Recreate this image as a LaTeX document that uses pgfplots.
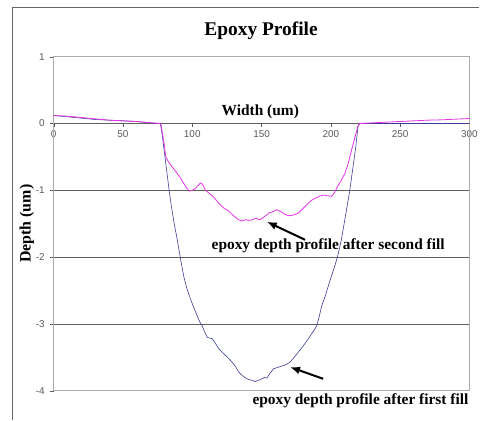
\documentclass[border=0pt]{standalone}
\usepackage{fontspec}
\setmainfont{Liberation Serif}
\newfontfamily\arial{Liberation Sans}
\usepackage{pgfplots}
\pgfplotsset{compat=1.18}
\usetikzlibrary{arrows.meta}
\definecolor{firstc}{RGB}{60,60,150}
\definecolor{secondc}{RGB}{228,50,228}
\definecolor{gridc}{RGB}{95,95,95}
\definecolor{boxc}{RGB}{170,170,170}
\definecolor{tickc}{RGB}{90,90,90}
\begin{document}
\begin{tikzpicture}[x=1pt,y=1pt]
\path (0,0) rectangle (481,421);
\draw[gray!80!black, line width=0.8pt] (12,-1) -- (12,414) -- (482,414);
\begin{axis}[at={(54pt,28pt)}, anchor=south west, scale only axis,
  width=418pt, height=336pt,
  xmin=0, xmax=300, ymin=-4, ymax=1,
  axis x line=middle, axis y line=left, axis line style={-},
  x axis line style={draw=gridc, line width=0.8pt},
  y axis line style={draw=boxc, line width=0.8pt},
  hide obscured x ticks=false,
  clip=false,
  xtick={0,50,...,300}, ytick={-4,-3,-2,-1,0,1},
  yticklabels={-4,-3,-2,-1,0,1},
  xticklabels={0,50,100,150,200,250,300},
  xticklabel style={font=\arial\fontsize{10}{12}\selectfont, text=tickc, yshift=0pt},
  yticklabel style={font=\arial\fontsize{10}{12}\selectfont, text=tickc, xshift=-2pt},
  major tick length=3.5pt,
  xtick style={draw=tickc},
  ytick style={draw=tickc},
  tick align=outside,
  xlabel={}, ylabel={},
]
\draw[boxc, line width=0.8pt] (rel axis cs:0,0) rectangle (rel axis cs:1,1);
\draw[gridc, line width=0.8pt] (axis cs:0,-1) -- (axis cs:300,-1);
\draw[gridc, line width=0.8pt] (axis cs:0,-2) -- (axis cs:300,-2);
\draw[gridc, line width=0.8pt] (axis cs:0,-3) -- (axis cs:300,-3);
\addplot[firstc, line width=0.6pt] coordinates {
(0,0.12) (10,0.10) (20,0.08) (30,0.06) (40,0.05) (50,0.04) (60,0.03) (70,0.01) (77,0.0)
(78.5,-0.2) (80,-0.45) (81.5,-0.7) (83.3,-1.0) (85,-1.25) (87,-1.5) (89,-1.72) (90.4,-1.89)
(92,-2.08) (94,-2.30) (96,-2.46) (98.8,-2.63) (101,-2.75) (103.6,-2.88) (105.5,-2.97) (107.2,-3.03)
(109,-3.12) (110.8,-3.20) (112.5,-3.21) (114.4,-3.22) (117,-3.30) (119.2,-3.37) (121.5,-3.42)
(124,-3.47) (126.5,-3.52) (128.7,-3.57) (131,-3.63) (133.5,-3.72) (136.5,-3.78) (139.5,-3.82)
(142.5,-3.84) (145.5,-3.86) (148,-3.84) (150.3,-3.82) (152,-3.80) (153.9,-3.81) (156,-3.74)
(158.7,-3.67) (161.5,-3.65) (164.6,-3.63) (167.5,-3.61) (170.6,-3.57) (173.5,-3.50) (176.6,-3.42)
(180,-3.33) (183.8,-3.22) (187,-3.12) (189.8,-3.03) (191.5,-2.90) (193.4,-2.73) (196,-2.58)
(198.2,-2.43) (200.5,-2.28) (202.9,-2.13) (205,-1.98) (207.5,-1.75) (210,-1.45) (213.7,-1.0)
(216,-0.65) (218,-0.35) (219.7,-0.03) (221,0.0) (230,0.0) (250,0.0) (270,0.0) (300,0.0)
};
\addplot[secondc, line width=0.8pt] coordinates {
(0,0.12) (10,0.11) (20,0.09) (30,0.07) (40,0.05) (50,0.04) (60,0.03) (70,0.01) (77.3,0.0)
(78.5,-0.15) (79.7,-0.30) (80.9,-0.50) (83,-0.58) (85.6,-0.65) (88.5,-0.73) (91.7,-0.82)
(94.5,-0.92) (97.6,-1.01) (100,-1.00) (102.4,-0.97) (104.5,-0.92) (106,-0.89) (107.5,-0.91)
(109.6,-1.0) (112,-1.04) (115.5,-1.10) (119.2,-1.20) (122.5,-1.26) (126.3,-1.31) (128.7,-1.36)
(131.5,-1.41) (133.5,-1.44) (135.9,-1.46) (138.5,-1.44) (141,-1.45) (143.1,-1.44) (146,-1.42)
(149.1,-1.44) (151.5,-1.40) (153,-1.38) (155.1,-1.34) (158,-1.32) (161,-1.29) (164,-1.32)
(167,-1.36) (169.4,-1.38) (173,-1.37) (176.6,-1.34) (180,-1.27) (183.8,-1.19) (186,-1.15)
(188.6,-1.12) (191.5,-1.09) (194.5,-1.07) (197.5,-1.08) (200.5,-1.09) (202.5,-1.04) (204.1,-0.97)
(207,-0.87) (210.1,-0.75) (212.5,-0.60) (214.9,-0.40) (217.5,-0.2) (219.7,-0.03) (221,0.0)
(230,0.01) (240,0.02) (250,0.03) (260,0.04) (270,0.05) (280,0.055) (290,0.065) (300,0.075)
};
\node[anchor=base, font=\bfseries\fontsize{15.5}{17}\selectfont] at (axis cs:149.1,0.119) {Width (um)};
\draw[-{Latex[length=10pt,width=8pt]}, line width=2pt] (axis cs:181.4,-1.74) -- (axis cs:153.8,-1.47);
\draw[-{Latex[length=10pt,width=8pt]}, line width=2pt] (axis cs:194.5,-3.82) -- (axis cs:170.6,-3.645);
\node[anchor=base, font=\bfseries\fontsize{15.5}{17}\selectfont] at (axis cs:198.1,-1.887) {epoxy depth profile after second fill};
\node[anchor=base, font=\bfseries\fontsize{15.5}{17}\selectfont] at (axis cs:221.4,-4.205) {epoxy depth profile after first fill};
\end{axis}
\node[anchor=base, font=\bfseries\fontsize{19.5}{22}\selectfont] at (262.5,385.3) {Epoxy Profile};
\node[rotate=90, font=\bfseries\fontsize{16}{18}\selectfont] at (27,196) {Depth (um)};
\end{tikzpicture}
\end{document}
